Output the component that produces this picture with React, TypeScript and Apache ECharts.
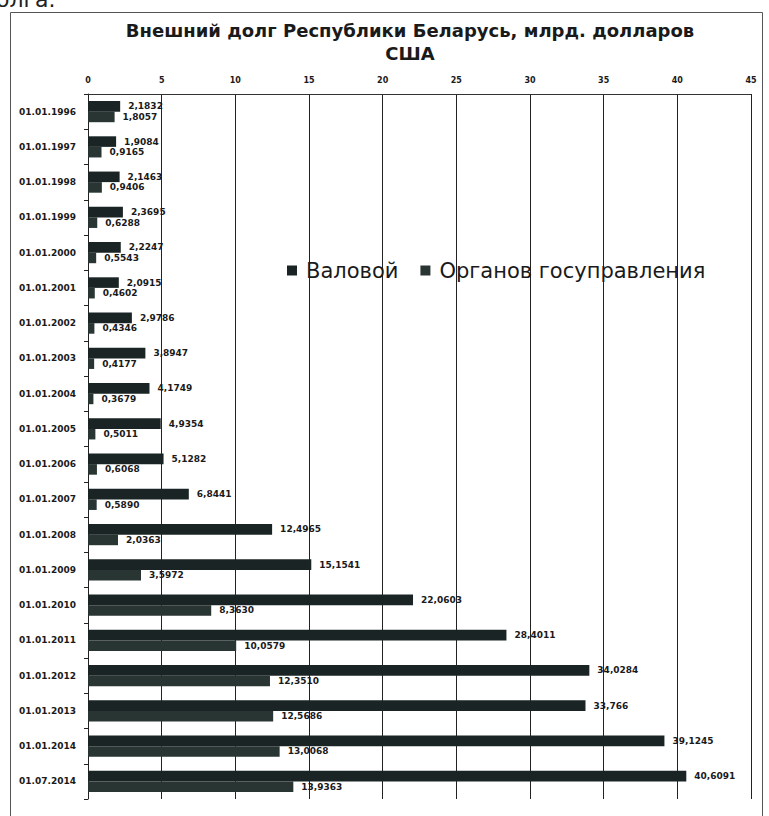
import React, { useEffect, useRef } from "react";
import * as echarts from "echarts";

const categories = [
  "01.01.1996", "01.01.1997", "01.01.1998", "01.01.1999", "01.01.2000",
  "01.01.2001", "01.01.2002", "01.01.2003", "01.01.2004", "01.01.2005",
  "01.01.2006", "01.01.2007", "01.01.2008", "01.01.2009", "01.01.2010",
  "01.01.2011", "01.01.2012", "01.01.2013", "01.01.2014", "01.07.2014",
];

const grossLabels = [
  "2,1832", "1,9084", "2,1463", "2,3695", "2,2247", "2,0915", "2,9786",
  "3,8947", "4,1749", "4,9354", "5,1282", "6,8441", "12,4965", "15,1541",
  "22,0603", "28,4011", "34,0284", "33,766", "39,1245", "40,6091",
];

const govLabels = [
  "1,8057", "0,9165", "0,9406", "0,6288", "0,5543", "0,4602", "0,4346",
  "0,4177", "0,3679", "0,5011", "0,6068", "0,5890", "2,0363", "3,5972",
  "8,3630", "10,0579", "12,3510", "12,5686", "13,0068", "13,9363",
];

const xTicks = { min: 0, max: 45, interval: 5 };

const toNum = (s: string) => parseFloat(s.replace(",", "."));
const grossValues = grossLabels.map(toNum);
const govValues = govLabels.map(toNum);

const FONT = "DejaVu Sans";
const INK = "#1a1a1a";

export default function App() {
  const ref = useRef<HTMLDivElement>(null);

  useEffect(() => {
    if (!ref.current) return;
    const chart = echarts.init(ref.current, undefined, { renderer: "svg" });
    const labelStyle = {
      show: true,
      position: "right" as const,
      distance: 8,
      fontFamily: FONT,
      fontWeight: "bold" as const,
      fontSize: 9,
      color: INK,
    };
    chart.setOption({
      animation: false,
      backgroundColor: "#ffffff",
      title: {
        text: "Внешний долг Республики Беларусь, млрд. долларов\nСША",
        left: 405,
        top: 14,
        textAlign: "center",
        textStyle: {
          fontFamily: FONT,
          fontWeight: "bold",
          fontSize: 18,
          lineHeight: 23,
          color: INK,
        },
      },
      legend: {
        data: ["Валовой", "Органов госуправления"],
        left: 282,
        top: 255,
        icon: "rect",
        itemWidth: 10,
        itemHeight: 10,
        itemGap: 22,
        textStyle: { fontFamily: FONT, fontSize: 21, color: INK, padding: [0, 0, 0, 4] },
      },
      grid: { left: 88, right: 18, top: 94, bottom: 17, containLabel: false },
      xAxis: {
        type: "value",
        position: "top",
        min: xTicks.min,
        max: xTicks.max,
        interval: xTicks.interval,
        axisLine: { show: true, lineStyle: { color: "#333", width: 1 } },
        axisTick: { show: false },
        axisLabel: {
          fontFamily: FONT,
          fontWeight: "bold",
          fontSize: 8,
          color: INK,
          margin: 10,
        },
        splitLine: { show: true, lineStyle: { color: "#222", width: 1 } },
      },
      yAxis: {
        type: "category",
        data: categories,
        inverse: true,
        axisLine: { show: true, lineStyle: { color: "#222", width: 1 } },
        axisTick: { show: true, length: 4, lineStyle: { color: "#222" } },
        axisLabel: {
          fontFamily: FONT,
          fontWeight: "bold",
          fontSize: 9,
          color: INK,
          margin: 12,
        },
      },
      series: [
        {
          name: "Валовой",
          type: "bar",
          data: grossValues,
          barGap: "0%",
          barCategoryGap: "40%",
          itemStyle: { color: "#1b2424" },
          label: { ...labelStyle, formatter: (p: any) => grossLabels[p.dataIndex] },
        },
        {
          name: "Органов госуправления",
          type: "bar",
          data: govValues,
          barGap: "0%",
          barCategoryGap: "40%",
          itemStyle: { color: "#283533" },
          label: { ...labelStyle, formatter: (p: any) => govLabels[p.dataIndex] },
        },
      ],
      graphic: [
        {
          type: "rect",
          shape: { x: 10.5, y: 12.5, width: 752, height: 830 },
          style: { fill: "none", stroke: "#555", lineWidth: 1 },
          silent: true,
        },
        {
          type: "text",
          x: -4,
          y: 10,
          style: {
            text: "олга.",
            fontFamily: FONT,
            fontSize: 22,
            fill: "#222",
            textVerticalAlign: "bottom",
          },
          silent: true,
        },
      ],
    });
    return () => chart.dispose();
  }, []);

  return (
    <div
      ref={ref}
      style={{ position: "absolute", left: 0, top: 0, width: 769, height: 816 }}
    />
  );
}
